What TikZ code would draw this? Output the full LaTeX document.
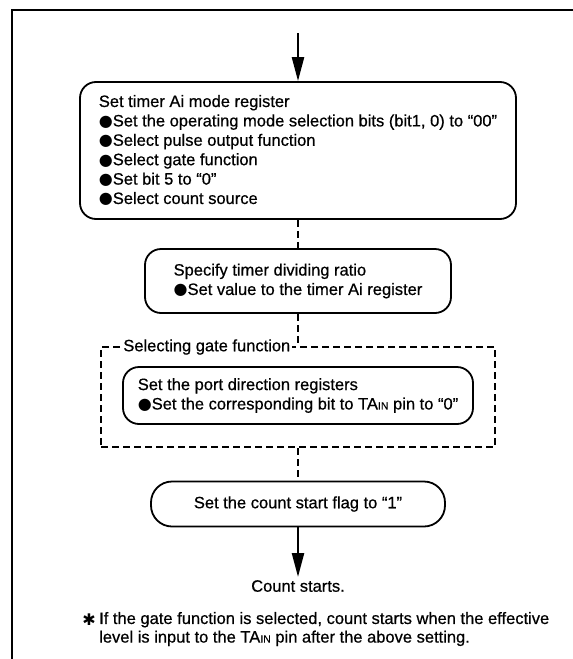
\documentclass[tikz,border=0pt]{standalone}
\usepackage{fontspec}
\setmainfont{Liberation Sans}[FakeBold=0.6]
\newfontfamily\symfont{DejaVu Sans}
\usetikzlibrary{arrows.meta}
\newcommand{\bul}{{\symfont\fontsize{16}{16}\selectfont ●}}
\newcommand{\tain}{TA{\fontsize{10.5}{10.5}\selectfont IN}}
\begin{document}
\begin{tikzpicture}[x=1pt,y=-1pt,
  box/.style={draw, line width=1.8pt, rounded corners=16pt, align=left, inner sep=0pt,
    font=\fontsize{16.5}{19.4}\selectfont},
  conn/.style={line width=2.4pt},
  dconn/.style={line width=2.4pt, dash pattern=on 7pt off 4pt},
  grpbox/.style={draw, line width=2.2pt, dash pattern=on 7pt off 4pt, inner sep=0pt},
  plain/.style={inner sep=0pt, font=\fontsize{16.5}{18.6}\selectfont, align=left},
  tip/.style={-{Triangle[length=24pt,width=12pt]}}
  ]
\useasboundingbox (0,0) rectangle (573,659);
% frame (cut off at right and bottom)
\coordinate (fbl) at (12,659);
\coordinate (ftl) at (12,10);
\coordinate (ftr) at (573,10);
\draw[line width=1.8pt] (fbl) -- (ftl) -- (ftr);

\coordinate (start) at (298,33);

\node[box, minimum width=436pt, minimum height=137pt] (b1) at (298,150.5)
  {Set timer Ai mode register\\
   \bul Set the operating mode selection bits (bit1, 0) to “00”\\
   \bul Select pulse output function\\
   \bul Select gate function\\
   \bul Set bit 5 to “0”\\
   \bul Select count source};

\node[box, minimum width=306pt, minimum height=64pt] (b2) at (298,281)
  {Specify timer dividing ratio\\
   \bul Set value to the timer Ai register};

\node[grpbox, minimum width=394pt, minimum height=100pt] (grp) at (298,397) {};
\node[plain, fill=white, inner sep=1.5pt, anchor=east] (glabel) at (292,347) {Selecting gate function};

\node[box, minimum width=350pt, minimum height=57pt] (b3) at (298,395.5)
  {Set the port direction registers\\
   \bul Set the corresponding bit to \tain\ pin to “0”};

\node[box, rounded corners=21pt, minimum width=294pt, minimum height=45pt] (b4) at (298,504)
  {Set the count start flag to “1”};

\node[plain, anchor=north, inner sep=3pt] (cs) at (298,577) {Count starts.};

\node[inner sep=0pt] (ast) at (89,620) {\symfont\fontsize{16}{16}\selectfont ✱};
\node[plain, anchor=west] (fn) at (99,629)
  {If the gate function is selected, count starts when the effective\\
   level is input to the \tain\ pin after the above setting.};

\draw[conn, tip] (start) -- (b1.north);
\draw[dconn] (b1.south) -- (b2.north);
\draw[dconn] (b2.south) -- (grp.north);
\draw[dconn] (grp.south) -- (b4.north);
\draw[conn, tip] (b4.south) -- (cs.north);
\end{tikzpicture}
\end{document}
